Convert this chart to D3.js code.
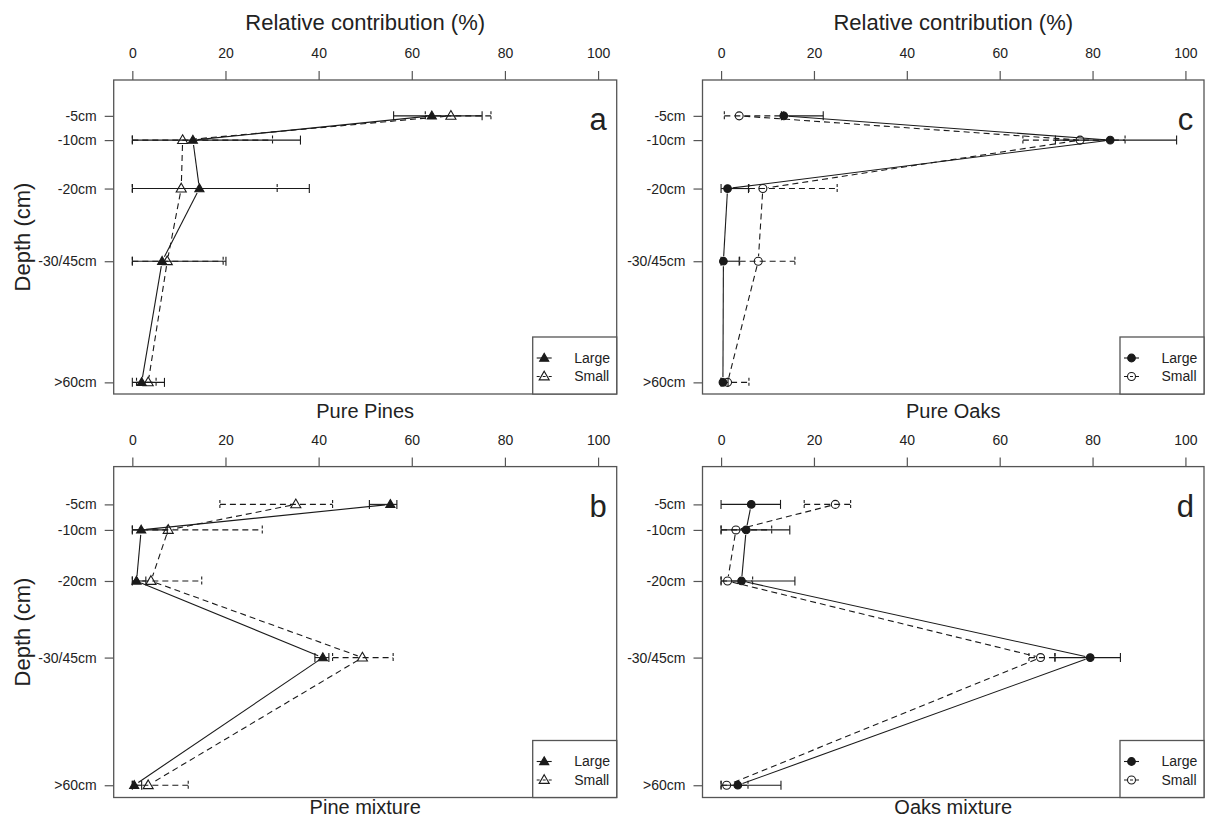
<!DOCTYPE html>
<html>
<head>
<meta charset="utf-8">
<script src="https://cdn.jsdelivr.net/npm/d3@7"></script>
<style>
  html, body { margin: 0; padding: 0; background: #fff; }
  svg { display: block; }
</style>
</head>
<body>
<script>
// ---------------- DATA ----------------
const depthLabels = ["-5cm", "-10cm", "-20cm", "-30/45cm", ">60cm"];
const depthValues = [5, 10, 20, 35, 60];
const xTicks = [0, 20, 40, 60, 80, 100];
const seriesNames = ["Large", "Small"];

// Pure Pines (a)
const pinesLarge   = [64.3, 13.0, 14.4, 6.4, 2.0];
const pinesLargeLo = [56.1, 0, 0, 0, 0];
const pinesLargeHi = [75.1, 36.1, 38.0, 20.1, 6.9];
const pinesSmall   = [68.4, 10.8, 10.5, 7.5, 3.4];
const pinesSmallLo = [62.9, 0, 0, 0, 0.9];
const pinesSmallHi = [77.0, 30.1, 31.1, 19.5, 5.1];

// Pine mixture (b)
const pineMixLarge   = [55.4, 1.9, 0.9, 40.9, 0.4];
const pineMixLargeLo = [50.9, 0, 0, 39.2, 0];
const pineMixLargeHi = [56.8, 7.5, 2.9, 42.2, 2.0];
const pineMixSmall   = [35.1, 7.7, 4.0, 49.4, 3.4];
const pineMixSmallLo = [18.8, 0, 0, 43.0, 0];
const pineMixSmallHi = [43.0, 27.9, 14.9, 56.0, 12.0];

// Pure Oaks (c)
const oaksLarge   = [13.5, 83.8, 1.4, 0.5, 0.4];
const oaksLargeLo = [13.0, 72.0, 0, 0, 0];
const oaksLargeHi = [22.0, 98.1, 5.9, 3.9, 1.5];
const oaksSmall   = [3.9, 77.3, 9.0, 8.0, 1.4];
const oaksSmallLo = [0.7, 65.0, 6.0, 4.0, 0];
const oaksSmallHi = [13.5, 87.0, 25.0, 15.9, 6.0];

// Oaks mixture (d)
const oakMixLarge   = [6.5, 5.4, 4.4, 79.5, 3.6];
const oakMixLargeLo = [0, 0, 0, 71.9, 0];
const oakMixLargeHi = [12.8, 14.8, 15.9, 86.0, 12.9];
const oakMixSmall   = [24.6, 3.2, 1.4, 68.8, 1.2];
const oakMixSmallLo = [17.9, 0, 0, 66.3, 0];
const oakMixSmallHi = [27.9, 10.9, 6.8, 71.9, 5.8];

// ---------------- LAYOUT ----------------
const W = 1205, H = 828;
const FONT = "'Liberation Sans', Arial, Helvetica, sans-serif";
const TEXT = "#222";
const BOX = "#555";
const INK = "#1a1a1a";
const DASH = "6,4";

const svg = d3.select("body").append("svg")
  .attr("width", W).attr("height", H)
  .style("font-family", FONT);
svg.append("rect").attr("width", W).attr("height", H).attr("fill", "#fff");

const panels = [
  { letter: "a", shape: "triangle", box: [113.7, 616.7, 80, 394],
    topTitle: "Relative contribution (%)", sub: "Pure Pines", subY: 411,
    large: [pinesLarge, pinesLargeLo, pinesLargeHi], small: [pinesSmall, pinesSmallLo, pinesSmallHi] },
  { letter: "c", shape: "circle", box: [702.5, 1204, 80, 394],
    topTitle: "Relative contribution (%)", sub: "Pure Oaks", subY: 411,
    large: [oaksLarge, oaksLargeLo, oaksLargeHi], small: [oaksSmall, oaksSmallLo, oaksSmallHi] },
  { letter: "b", shape: "triangle", box: [113.7, 616.7, 466.6, 797.5],
    topTitle: null, sub: "Pine mixture", subY: 807,
    large: [pineMixLarge, pineMixLargeLo, pineMixLargeHi], small: [pineMixSmall, pineMixSmallLo, pineMixSmallHi] },
  { letter: "d", shape: "circle", box: [702.5, 1204, 466.6, 797.5],
    topTitle: null, sub: "Oaks mixture", subY: 807,
    large: [oakMixLarge, oakMixLargeLo, oakMixLargeHi], small: [oakMixSmall, oakMixSmallLo, oakMixSmallHi] }
];

function symbolPath(shape, filled) {
  if (shape === "triangle") return d3.symbol().type(d3.symbolTriangle).size(filled ? 36 : 44)();
  return d3.symbol().type(d3.symbolCircle).size(filled ? 46 : 50)();
}

function drawMarker(g, shape, filled, x, y) {
  g.append("path")
    .attr("d", symbolPath(shape, filled))
    .attr("transform", `translate(${x},${y + (shape === "triangle" ? 0.5 : 0)})`)
    .attr("fill", filled ? INK : "none")
    .attr("stroke", INK)
    .attr("stroke-width", 1.1);
}

panels.forEach(p => {
  const [x0, x1, y0, y1] = p.box;
  const x = d3.scaleLinear().domain([-4, 104]).range([x0, x1]);
  const y = d3.scaleLinear().domain([-2.4, 62.4]).range([y0, y1]);
  const g = svg.append("g");

  // top axis
  const ax = d3.axisTop(x).tickValues(xTicks).tickSize(9).tickPadding(13).tickSizeOuter(0);
  const axG = g.append("g").attr("transform", `translate(0,${y0})`).call(ax);
  axG.select(".domain").remove();
  axG.selectAll("line").attr("stroke", BOX).attr("stroke-width", 1.2);
  axG.selectAll("text").attr("font-size", 14).attr("fill", TEXT).attr("font-family", FONT);

  // left axis
  const ay = d3.axisLeft(y).tickValues(depthValues)
    .tickFormat((d, i) => depthLabels[i]).tickSize(9).tickPadding(8).tickSizeOuter(0);
  const ayG = g.append("g").attr("transform", `translate(${x0},0)`).call(ay);
  ayG.select(".domain").remove();
  ayG.selectAll("line").attr("stroke", BOX).attr("stroke-width", 1.2);
  ayG.selectAll("text").attr("font-size", 14).attr("fill", TEXT).attr("font-family", FONT);

  // box
  g.append("rect").attr("x", x0).attr("y", y0).attr("width", x1 - x0).attr("height", y1 - y0)
    .attr("fill", "none").attr("stroke", BOX).attr("stroke-width", 1.3);

  // titles
  if (p.topTitle) {
    g.append("text").attr("x", (x0 + x1) / 2).attr("y", 22).attr("dy", "0.35em")
      .attr("text-anchor", "middle").attr("font-size", 22).attr("fill", TEXT).text(p.topTitle);
  }
  g.append("text").attr("x", (x0 + x1) / 2).attr("y", p.subY).attr("dy", "0.35em")
    .attr("text-anchor", "middle").attr("font-size", 20).attr("fill", TEXT).text(p.sub);
  if (p.letter === "a" || p.letter === "b") {
    g.append("text").attr("transform", `translate(22,${(y0 + y1) / 2}) rotate(-90)`)
      .attr("dy", "0.35em").attr("text-anchor", "middle").attr("font-size", 22)
      .attr("fill", TEXT).text("Depth (cm)");
  }
  g.append("text").attr("x", x(100)).attr("y", y0 + 50).attr("text-anchor", "middle")
    .attr("font-size", 31).attr("fill", TEXT).text(p.letter);

  const series = [
    { data: p.large, dash: null, filled: true },
    { data: p.small, dash: DASH, filled: false }
  ];

  // error bars
  series.forEach(s => {
    const [vals, lo, hi] = s.data;
    vals.forEach((v, i) => {
      const yy = y(depthValues[i]);
      const eg = g.append("g").attr("stroke", INK).attr("stroke-width", 1.1)
        .attr("stroke-dasharray", s.dash);
      eg.append("line").attr("x1", x(lo[i])).attr("x2", x(hi[i])).attr("y1", yy).attr("y2", yy);
      [lo[i], hi[i]].forEach(e => {
        eg.append("line").attr("x1", x(e)).attr("x2", x(e)).attr("y1", yy - 4.5).attr("y2", yy + 4.5)
          .attr("stroke-dasharray", s.dash ? "3,2" : null);
      });
    });
  });

  // connecting lines with gaps (type "b")
  const gap = 5;
  series.forEach(s => {
    const vals = s.data[0];
    const pts = vals.map((v, i) => [x(v), y(depthValues[i])]);
    for (let i = 0; i < pts.length - 1; i++) {
      const [ax1, ay1] = pts[i], [bx, by] = pts[i + 1];
      const len = Math.hypot(bx - ax1, by - ay1);
      if (len <= 2 * gap) continue;
      const ux = (bx - ax1) / len, uy = (by - ay1) / len;
      g.append("line")
        .attr("x1", ax1 + ux * gap).attr("y1", ay1 + uy * gap)
        .attr("x2", bx - ux * gap).attr("y2", by - uy * gap)
        .attr("stroke", INK).attr("stroke-width", 1.1)
        .attr("stroke-dasharray", s.dash);
    }
  });

  // markers
  series.forEach(s => {
    s.data[0].forEach((v, i) => drawMarker(g, p.shape, s.filled, x(v), y(depthValues[i])));
  });

  // legend
  const lx = x1 - 84, ly = y1 - 57;
  g.append("rect").attr("x", lx).attr("y", ly).attr("width", x1 - lx).attr("height", y1 - ly)
    .attr("fill", "#fff").attr("stroke", BOX).attr("stroke-width", 1.3);
  series.forEach((s, k) => {
    const ry = y1 - 36 + k * 18.5;
    g.append("line").attr("x1", lx + 4).attr("x2", lx + 19).attr("y1", ry).attr("y2", ry)
      .attr("stroke", INK).attr("stroke-width", 1.1).attr("stroke-dasharray", s.dash ? "3,3" : null);
    drawMarker(g, p.shape, s.filled, lx + 11.5, ry);
    g.append("text").attr("x", lx + 41.5).attr("y", ry).attr("dy", "0.35em")
      .attr("font-size", 14).attr("fill", TEXT).text(seriesNames[k]);
  });
});
</script>
</body>
</html>
